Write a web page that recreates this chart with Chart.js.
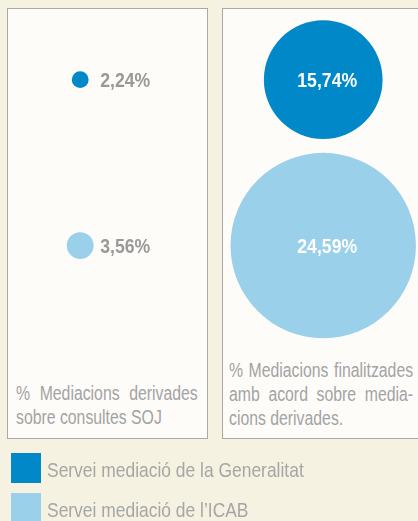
<!DOCTYPE html>
<html>
<head>
<meta charset="utf-8">
<script src="https://cdn.jsdelivr.net/npm/chart.js@4"></script>
<style>
    html, body { margin: 0; padding: 0; }
    body {
        width: 418px; height: 521px; overflow: hidden; position: relative;
        background: #f5f2e1;
        font-family: "Liberation Sans", Arial, sans-serif;
        color: #a3a3a3;
    }
    .panel {
        position: absolute; top: 8px; height: 431px;
        background: #fdfcf9; border: 1px solid #aaa9a4; box-sizing: border-box;
    }
    /* no condensed font installed: squeeze the text horizontally */
    .caption {
        position: absolute; font-size: 20px; line-height: 24px;
        transform: scaleX(0.79); transform-origin: 0 0;
    }
    .caption div { white-space: nowrap; }
    .caption .just { text-align: justify; text-align-last: justify; }
    #chartBox { position: absolute; left: 0; top: 0; width: 418px; height: 521px; }
    .legend { position: absolute; left: 11px; top: 453px; }
    .legend-row { display: flex; height: 30px; margin-bottom: 10px; }
    .legend-row .box { width: 30px; height: 30px; }
    .legend-row span {
        margin-left: 6px; font-size: 21px; line-height: 30px; position: relative; top: 2px;
        color: #a6a6a6; white-space: nowrap;
        display: inline-block; transform: scaleX(0.83); transform-origin: 0 0;
    }
</style>
</head>
<body>
<div class="panel" style="left:7px; width:201px;"></div>
<div class="panel" style="left:222px; width:210px;"></div>
<div class="caption" style="left:16px; top:381px; width:230px;">
    <div class="just">% Mediacions derivades</div>
    <div>sobre consultes SOJ</div>
</div>
<div class="caption" style="left:229px; top:358px; width:233px;">
    <div class="just">% Mediacions finalitzades</div>
    <div class="just">amb acord sobre media-</div>
    <div>cions derivades.</div>
</div>
<div id="chartBox"><canvas id="bubbleChart"></canvas></div>
<div class="legend" id="legend"></div>
<script>
// one bubble per metric (x) and service (y); radius grows with the percentage
const metrics = ['% Mediacions derivades sobre consultes SOJ', '% Mediacions finalitzades amb acord sobre mediacions derivades.'];
const services = ['Servei mediació de la Generalitat', 'Servei mediació de l\u2019ICAB'];
const generalitatValues = [2.24, 15.74];
const icabValues = [3.56, 24.59];

const serviceColors = ['#0088c9', '#9ad0ea'];
const PX_PER_PCT = 3.77;

function fmt(v) {
    return v.toFixed(2).replace('.', ',') + '%';
}

function toPoints(values, row) {
    return values.map(function (v, i) {
        return { x: i, y: row, r: v * PX_PER_PCT, v: v };
    });
}

// draws a condensed label (horizontal squeeze) at x,y
function squeezedText(ctx, text, x, y, align) {
    const sx = 0.84;
    const w = ctx.measureText(text).width * sx;
    const left = align === 'center' ? x - w / 2 : x;
    ctx.save();
    ctx.translate(left, y);
    ctx.scale(sx, 1);
    ctx.textAlign = 'left';
    ctx.fillText(text, 0, 0);
    ctx.restore();
}

const valueLabels = {
    id: 'valueLabels',
    afterDatasetsDraw: function (chart) {
        const ctx = chart.ctx;
        ctx.save();
        ctx.font = 'bold 21px "Liberation Sans", Arial, sans-serif';
        ctx.textBaseline = 'middle';
        chart.data.datasets.forEach(function (ds, di) {
            chart.getDatasetMeta(di).data.forEach(function (el, i) {
                const p = ds.data[i];
                if (p.x === 0) {
                    ctx.fillStyle = '#999999';
                    squeezedText(ctx, fmt(p.v), el.x + 20, el.y + 2, 'left');
                } else {
                    ctx.fillStyle = '#ffffff';
                    squeezedText(ctx, fmt(p.v), el.x + 4, el.y + 2, 'center');
                }
            });
        });
        ctx.restore();
    }
};

document.addEventListener('DOMContentLoaded', function () {
    const ctx = document.getElementById('bubbleChart').getContext('2d');
    new Chart(ctx, {
        type: 'bubble',
        data: {
            datasets: [
                { label: services[0], data: toPoints(generalitatValues, 0), backgroundColor: serviceColors[0], borderWidth: 0 },
                { label: services[1], data: toPoints(icabValues, 1), backgroundColor: serviceColors[1], borderWidth: 0 }
            ]
        },
        options: {
            responsive: true,
            maintainAspectRatio: false,
            animation: false,
            events: [],
            clip: false,
            layout: { padding: 0, autoPadding: false },
            scales: {
                x: { type: 'linear', display: false, min: -0.33, max: 1.39 },
                y: { type: 'linear', display: false, reverse: true, min: -0.48, max: 2.66 }
            },
            plugins: {
                legend: { display: false },
                tooltip: { enabled: false }
            }
        },
        plugins: [valueLabels]
    });

    const legend = document.getElementById('legend');
    services.forEach(function (name, i) {
        const row = document.createElement('div');
        row.className = 'legend-row';
        row.innerHTML = '<div class="box" style="background:' + serviceColors[i] + '"></div><span>' + name + '</span>';
        legend.appendChild(row);
    });
});
</script>
</body>
</html>
